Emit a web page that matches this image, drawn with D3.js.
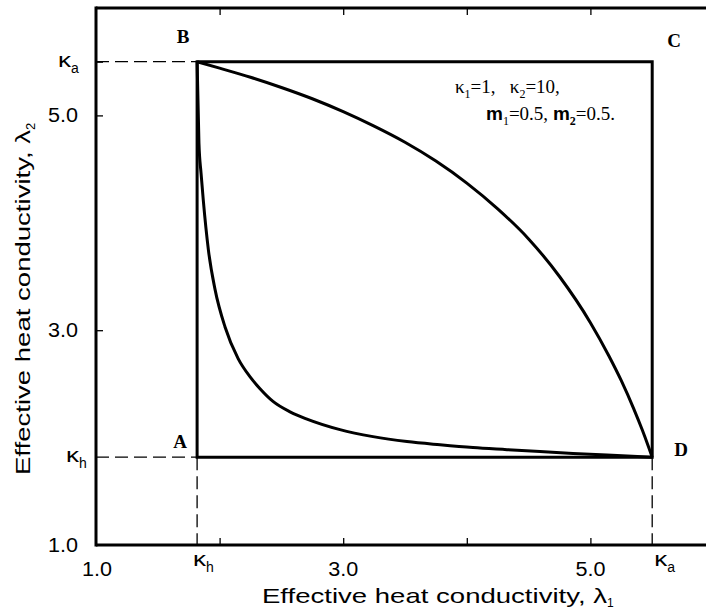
<!DOCTYPE html>
<html><head><meta charset="utf-8">
<script src="https://cdn.jsdelivr.net/npm/d3@7/dist/d3.min.js"></script>
<style>
body{margin:0;background:#fff;}
svg{display:block;}
.sans{font-family:"Liberation Sans",Arial,sans-serif;}
.serif{font-family:"Liberation Serif","Times New Roman",serif;}
</style></head>
<body>
<svg id="chart" width="706" height="612"></svg>
<script>
// ---- data ----
const kappaH = 1.818;   // harmonic mean
const kappaA = 5.5;     // arithmetic mean
const tickValues = [2.0, 3.0, 4.0, 5.0];
const numLabels = [1.0, 3.0, 5.0];
const cornerNames = ["A", "B", "C", "D"];
const upperX = [1.818, 2.0, 2.25, 2.5, 2.75, 3.0, 3.25, 3.5, 3.75, 4.0, 4.25, 4.5, 4.75, 5.0, 5.15, 5.25, 5.35, 5.42, 5.47, 5.5];
const upperY = [5.5, 5.44, 5.355, 5.26, 5.155, 5.035, 4.90, 4.75, 4.575, 4.37, 4.13, 3.85, 3.50, 3.07, 2.76, 2.53, 2.27, 2.07, 1.915, 1.818];
const lowerX = [1.818, 1.833, 1.85, 1.868, 1.909, 1.963, 2.044, 2.15, 2.25, 2.327, 2.432, 2.57, 2.707, 2.974, 3.241, 3.516, 3.783, 4.05, 4.325, 4.592, 4.859, 5.134, 5.5];
const lowerY = [5.5, 4.74, 4.46, 4.21, 3.75, 3.38, 3.03, 2.735, 2.56, 2.455, 2.337, 2.24, 2.172, 2.074, 2.009, 1.963, 1.933, 1.907, 1.888, 1.870, 1.853, 1.838, 1.818];

const svg = d3.select("#chart");
const x = d3.scaleLinear().domain([1, 6]).range([96, 714]);
const y = d3.scaleLinear().domain([1, 6]).range([545, 8]);

// axes (inward ticks)
const tickLen = 7;
svg.append("g").attr("transform", `translate(0,${y(1)})`)
  .call(d3.axisBottom(x).tickValues(tickValues).tickSize(-tickLen).tickFormat(""))
  .call(g => g.select(".domain").remove());
svg.append("g").attr("transform", `translate(0,${y(6)})`)
  .call(d3.axisTop(x).tickValues(tickValues).tickSize(-tickLen).tickFormat(""))
  .call(g => g.select(".domain").remove());
svg.append("g").attr("transform", `translate(${x(1)},0)`)
  .call(d3.axisLeft(y).tickValues([3.0, 5.0, kappaA]).tickSize(-tickLen).tickFormat(""))
  .call(g => g.select(".domain").remove());
svg.selectAll(".tick line").attr("stroke", "#000").attr("stroke-width", 1.3);

// frame
const frame = svg.append("g").attr("stroke", "#000").attr("stroke-width", 3).attr("fill", "none");
frame.append("line").attr("x1", x(1)).attr("x2", 706).attr("y1", y(1)).attr("y2", y(1));
frame.append("line").attr("x1", x(1)).attr("x2", 706).attr("y1", y(6)).attr("y2", y(6));
frame.append("line").attr("x1", x(1)).attr("x2", x(1)).attr("y1", y(6) - 1.5).attr("y2", y(1) + 1.5);

// dashed guides
const dash = svg.append("g").attr("stroke", "#000").attr("stroke-width", 1.3).attr("stroke-dasharray", "13,6");
dash.append("line").attr("x1", x(1)).attr("x2", x(kappaH)).attr("y1", y(kappaA)).attr("y2", y(kappaA));
dash.append("line").attr("x1", x(1)).attr("x2", x(kappaH)).attr("y1", y(kappaH)).attr("y2", y(kappaH));
dash.append("line").attr("x1", x(kappaH)).attr("x2", x(kappaH)).attr("y1", y(kappaH)).attr("y2", y(1));
dash.append("line").attr("x1", x(kappaA)).attr("x2", x(kappaA)).attr("y1", y(kappaH)).attr("y2", y(1));

// rectangle ABCD
const corners = [[kappaH, kappaH], [kappaH, kappaA], [kappaA, kappaA], [kappaA, kappaH]];
svg.append("path")
  .attr("d", d3.line().x(d => x(d[0])).y(d => y(d[1]))(corners) + "Z")
  .attr("fill", "none").attr("stroke", "#000").attr("stroke-width", 3).attr("stroke-linejoin", "miter");

// curves
const lineGen = d3.line().x(d => x(d[0])).y(d => y(d[1])).curve(d3.curveMonotoneX);
svg.append("path").datum(upperX.map((v, i) => [v, upperY[i]]))
  .attr("d", lineGen).attr("fill", "none").attr("stroke", "#000").attr("stroke-width", 3);
svg.append("path").datum(lowerX.map((v, i) => [v, lowerY[i]]))
  .attr("d", lineGen).attr("fill", "none").attr("stroke", "#000").attr("stroke-width", 3);

// corner letters
const cornerPos = [[-17, -9], [-14, -19], [22, -15], [29, -1]];
svg.selectAll("text.corner").data(cornerNames).join("text")
  .attr("class", "corner serif")
  .attr("x", (d, i) => x(corners[i][0]) + cornerPos[i][0])
  .attr("y", (d, i) => y(corners[i][1]) + cornerPos[i][1])
  .attr("text-anchor", "middle").attr("font-size", 19).attr("font-weight", "bold")
  .text(d => d);

// numeric tick labels
const fs = 20;
svg.selectAll("text.xnum").data(numLabels).join("text")
  .attr("class", "xnum sans").attr("x", d => x(d) + (d === 1 ? 1 : 0) - 15).attr("y", 576)
  .attr("font-size", fs).attr("textLength", 30).attr("lengthAdjust", "spacingAndGlyphs")
  .text(d => d.toFixed(1));
svg.selectAll("text.ynum").data(numLabels).join("text")
  .attr("class", "ynum sans").attr("x", 48).attr("y", d => y(d) + 7)
  .attr("font-size", fs).attr("textLength", 30).attr("lengthAdjust", "spacingAndGlyphs")
  .text(d => d.toFixed(1));

// kappa labels
function kappaLabel(px, py, sub) {
  const t = svg.append("text").attr("class", "sans").attr("x", px).attr("y", py).attr("font-size", fs);
  t.append("tspan").attr("textLength", 13).attr("lengthAdjust", "spacingAndGlyphs").text("\u03ba");
  t.append("tspan").attr("font-size", 14).attr("dy", 6).text(sub);
}
kappaLabel(58, y(kappaA) + 5, "a");
kappaLabel(66, y(kappaH) + 5, "h");
kappaLabel(x(kappaH) - 4, 566, "h");
kappaLabel(x(kappaA) + 2, 566, "a");

// axis titles
const xt = svg.append("text").attr("class", "sans").attr("x", 262).attr("y", 603).attr("font-size", 21);
xt.append("tspan").attr("textLength", 345).attr("lengthAdjust", "spacingAndGlyphs")
  .text("Effective heat conductivity, \u03bb");
xt.append("tspan").attr("font-size", 12).attr("dy", 4).text("1");
const yt = svg.append("text").attr("class", "sans")
  .attr("transform", "translate(30,475) rotate(-90)").attr("font-size", 21);
yt.append("tspan").attr("textLength", 345).attr("lengthAdjust", "spacingAndGlyphs")
  .text("Effective heat conductivity, \u03bb");
yt.append("tspan").attr("font-size", 13).attr("dy", 5).text("2");

// annotation
const a1 = svg.append("text").attr("class", "serif").attr("x", 455).attr("y", 93).attr("font-size", 19);
a1.append("tspan").text("\u03ba");
a1.append("tspan").attr("font-size", 12).attr("dy", 5).text("1");
a1.append("tspan").attr("dy", -5).text("=1,\u00a0\u00a0\u00a0\u03ba");
a1.append("tspan").attr("font-size", 12).attr("dy", 5).text("2");
a1.append("tspan").attr("dy", -5).text("=10,");
const a2 = svg.append("text").attr("class", "serif").attr("x", 486).attr("y", 120).attr("font-size", 19);
a2.append("tspan").attr("font-family", "Liberation Sans, Arial, sans-serif").attr("font-weight", "bold").text("m");
a2.append("tspan").attr("font-size", 12).attr("dy", 5).text("1");
a2.append("tspan").attr("dy", -5).text("=0.5, ");
a2.append("tspan").attr("font-family", "Liberation Sans, Arial, sans-serif").attr("font-weight", "bold").text("m");
a2.append("tspan").attr("font-size", 12).attr("font-weight", "bold").attr("dy", 5).text("2");
a2.append("tspan").attr("dy", -5).text("=0.5.");
</script>
</body></html>
